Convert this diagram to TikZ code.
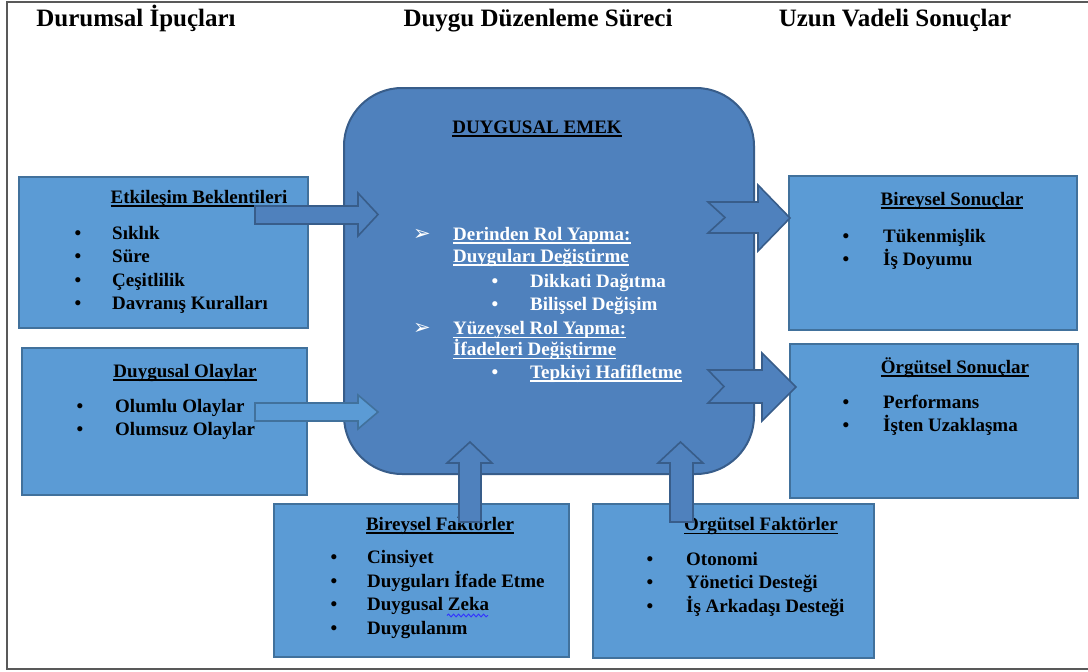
\documentclass[tikz,border=0pt]{standalone}
\usepackage{fontspec}
\setmainfont{Liberation Serif}
\newfontfamily\dejavu{DejaVu Sans}
\usetikzlibrary{decorations.pathmorphing}
\definecolor{cfill}{HTML}{4F81BD}
\definecolor{cdraw}{HTML}{385D8A}
\definecolor{bfill}{HTML}{5B9BD5}
\definecolor{bdraw}{HTML}{41719C}
\definecolor{framegray}{HTML}{595959}
\newcommand\ulx[1]{\setbox0\hbox{#1}\rlap{\vrule height -2.2pt depth 3.5pt width \wd0}\box0}
\newcommand\bitem[5]{%
  \node[txt, anchor=base] (#1b) at (#2,#4) {\textbullet};
  \node[txt, anchor=base west] (#1) at (#3,#4) {#5};}
\newcommand\witem[5]{%
  \node[wtxt, anchor=base] (#1b) at (#2,#4) {\textbullet};
  \node[wtxt, anchor=base west] (#1) at (#3,#4) {#5};}
\newcommand\aitem[5]{%
  \node[wtxt, anchor=base, font=\dejavu\fontsize{21}{24}\selectfont] (#1b) at (#2,#4) {➢};
  \node[wtxt, anchor=base west] (#1) at (#3,#4) {#5};}
\begin{document}
\begin{tikzpicture}[x=1pt,y=-1pt,
  txt/.style={inner sep=0pt, font=\fontsize{19}{23}\selectfont\bfseries},
  wtxt/.style={txt, text=white},
  head/.style={inner sep=0pt, font=\fontsize{25}{30}\selectfont\bfseries},
  box/.style={draw=bdraw, line width=1.6pt, fill=bfill, inner sep=0pt, anchor=north west},
  darr/.style={draw=cdraw, line width=1.6pt, fill=cfill, line join=miter},
  larr/.style={draw=bdraw, line width=1.6pt, fill=bfill, line join=miter}]
\useasboundingbox (0,0) rectangle (1088,672);
\fill[white] (0,0) rectangle (1088,672);
\draw[framegray, line width=2pt] (1088,2) -- (7,2) -- (7,669) -- (1088,669);

% headings
\node[head, anchor=base] (h1) at (136,26) {Durumsal İpuçları};
\node[head, anchor=base] (h2) at (538,26) {Duygu Düzenleme Süreci};
\node[head, anchor=base] (h3) at (895,26) {Uzun Vadeli Sonuçlar};

% central shape
\node[draw=cdraw, line width=2pt, fill=cfill, rounded corners=58pt, inner sep=0pt,
      minimum width=410pt, minimum height=386pt, anchor=north west] (emek) at (343,87) {};

% boxes
\node[box, minimum width=289pt, minimum height=151pt] (eb) at (18,176) {};
\node[box, minimum width=285pt, minimum height=147pt] (do) at (21,347) {};
\node[box, minimum width=288pt, minimum height=154pt] (bs) at (788,175) {};
\node[box, minimum width=288pt, minimum height=154pt] (os) at (789,343) {};
\node[box, minimum width=295pt, minimum height=153pt] (bf) at (273,503) {};
\node[box, minimum width=281pt, minimum height=154pt] (of) at (592,503) {};

% box texts
\node[txt, anchor=base] (ebt) at (199,203) {\ulx{Etkileşim Beklentileri}};
\bitem{eb1}{78}{112}{239}{Sıklık}
\bitem{eb2}{78}{112}{262}{Süre}
\bitem{eb3}{78}{112}{286}{Çeşitlilik}
\bitem{eb4}{78}{112}{309.5}{Davranış Kuralları}

\node[txt, anchor=base] (dot) at (185,377) {\ulx{Duygusal Olaylar}};
\bitem{do1}{80}{115}{412}{Olumlu Olaylar}
\bitem{do2}{80}{115}{435}{Olumsuz Olaylar}

\node[txt, anchor=base] (bst) at (952,205) {\ulx{Bireysel Sonuçlar}};
\bitem{bs1}{846}{883}{242}{Tükenmişlik}
\bitem{bs2}{846}{883}{265}{İş Doyumu}

\node[txt, anchor=base] (ost) at (955,373) {\ulx{Örgütsel Sonuçlar}};
\bitem{os1}{846}{883}{408}{Performans}
\bitem{os2}{846}{883}{431}{İşten Uzaklaşma}

\node[txt, anchor=base] (bft) at (440,530) {\ulx{Bireysel Faktörler}};
\bitem{bf1}{334}{367}{563.5}{Cinsiyet}
\bitem{bf2}{334}{367}{587}{Duyguları İfade Etme}
\bitem{bf3}{334}{367}{610.5}{Duygusal Zeka}
\bitem{bf4}{334}{367}{634}{Duygulanım}
\draw[blue!80!white, line width=0.9pt, decorate,
      decoration={snake, amplitude=1.4pt, segment length=5pt}] (447,615.5) -- (488,615.5);

\node[txt, anchor=base] (oft) at (761,530.5) {\ulx{Örgütsel Faktörler}};
\bitem{of1}{650}{686}{565}{Otonomi}
\bitem{of2}{650}{686}{588.5}{Yönetici Desteği}
\bitem{of3}{650}{686}{612}{İş Arkadaşı Desteği}

% central texts
\node[txt, anchor=base] (emt) at (537,133) {\ulx{DUYGUSAL EMEK}};
\aitem{c1}{422}{453}{240}{\ulx{Derinden Rol Yapma:}}
\node[wtxt, anchor=base west] (c2) at (453,262) {\ulx{Duyguları Değiştirme}};
\witem{c3}{495}{530}{287}{Dikkati Dağıtma}
\witem{c4}{495}{530}{310}{Bilişsel Değişim}
\aitem{c5}{422}{453}{334.5}{\ulx{Yüzeysel Rol Yapma:}}
\node[wtxt, anchor=base west] (c6) at (453,355.5) {\ulx{İfadeleri Değiştirme}};
\witem{c7}{495}{530}{378}{\ulx{Tepkiyi Hafifletme}}

% block arrows
\draw[darr] (255,206) -- (358,206) -- (358,193) -- (378,214.5) -- (358,236) -- (358,224) -- (255,224) -- cycle;
\draw[larr] (255,403) -- (358,403) -- (358,395) -- (378,412) -- (358,429) -- (358,421) -- (255,421) -- cycle;
\draw[darr] (708,202) -- (758,202) -- (758,185) -- (790,218) -- (758,251) -- (758,233) -- (708,233) -- (725,217.5) -- cycle;
\draw[darr] (708,370) -- (762,370) -- (762,353) -- (796,387) -- (762,421) -- (762,403) -- (708,403) -- (724,386.5) -- cycle;
\draw[darr] (459,522) -- (459,463) -- (447,463) -- (470,442) -- (492,463) -- (481,463) -- (481,522) -- cycle;
\draw[darr] (670,522) -- (670,463) -- (658,463) -- (680.5,442) -- (703,463) -- (693,463) -- (693,522) -- cycle;
\end{tikzpicture}
\end{document}
